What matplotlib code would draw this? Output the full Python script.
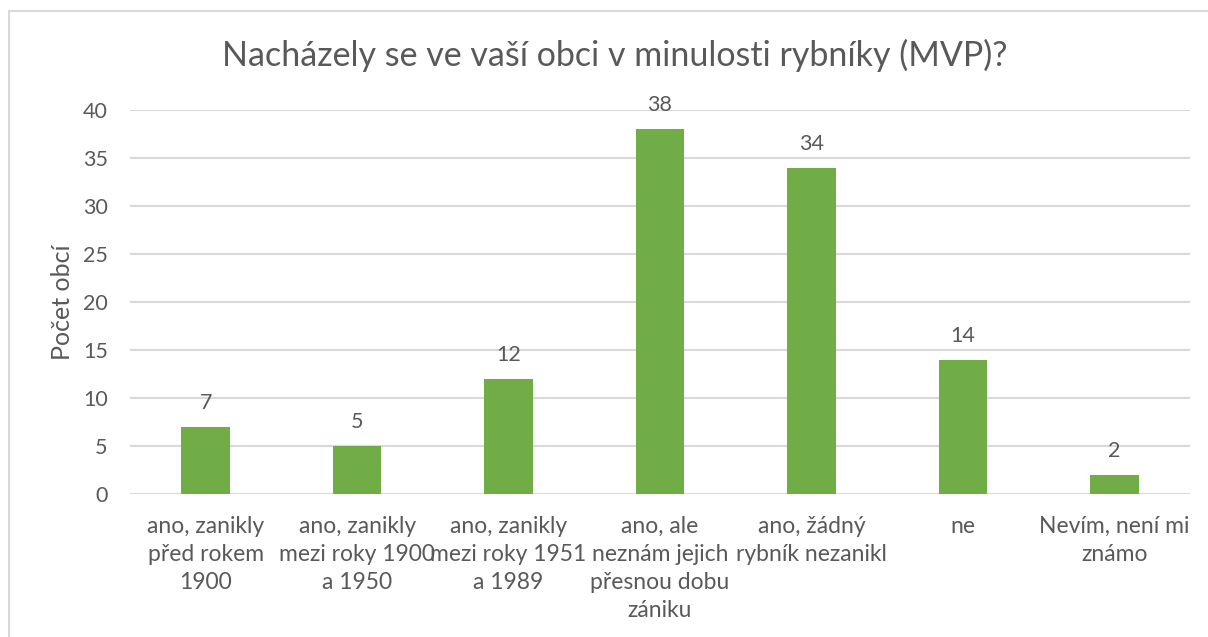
import matplotlib
matplotlib.use("Agg")
import matplotlib.pyplot as plt
from matplotlib.lines import Line2D

categories = [
    "ano, zanikly\npřed rokem\n1900",
    "ano, zanikly\nmezi roky 1900\na 1950",
    "ano, zanikly\nmezi roky 1951\na 1989",
    "ano, ale\nneznám jejich\npřesnou dobu\nzániku",
    "ano, žádný\nrybník nezanikl",
    "ne",
    "Nevím, není mi\nznámo",
]
counts = [7, 5, 12, 38, 34, 14, 2]
y_ticks = [0, 5, 10, 15, 20, 25, 30, 35, 40]

TEXT = "#595959"
BAR = "#70AD47"
GRID = "#D9D9D9"

plt.rcParams["font.family"] = ["Lato", "DejaVu Sans"]

W, H = 1208, 637
fig = plt.figure(figsize=(W / 100, H / 100), dpi=100)
fig.patch.set_facecolor("white")

# chart border (cut off at right/bottom like the screenshot)
fig.add_artist(Line2D([9 / W, 9 / W], [0, 1 - 11 / H], color=GRID, lw=1.5))
fig.add_artist(Line2D([9 / W, 1], [1 - 11 / H, 1 - 11 / H], color=GRID, lw=1.5))

ax = fig.add_axes([130 / W, 1 - 494 / H, 1060 / W, 384 / H])
x = range(len(categories))
bars = ax.bar(x, counts, width=0.32, color=BAR, zorder=3)
ax.set_xlim(-0.5, len(categories) - 0.5)
ax.set_ylim(0, 40)
ax.set_yticks(y_ticks)
ax.yaxis.grid(True, color=GRID, lw=1.5, zorder=0)
for s in ax.spines.values():
    s.set_visible(False)
ax.tick_params(axis="y", length=0, pad=16, labelsize=15.5, labelcolor=TEXT)
ax.tick_params(axis="x", length=0, pad=16, labelsize=16.5, labelcolor=TEXT)
ax.set_xticks(list(x))
ax.set_xticklabels(categories, linespacing=1.4)

for b, v in zip(bars, counts):
    ax.annotate(f"{v}", (b.get_x() + b.get_width() / 2, v), xytext=(0, 10),
                textcoords="offset points", ha="center", va="bottom",
                fontsize=15.5, color=TEXT)

ax.set_ylabel("Počet obcí", fontsize=18, color=TEXT, va="center")
ax.yaxis.set_label_coords(-68 / 1060, 0.5)
fig.text(615 / W, 1 - 55 / H, "Nacházely se ve vaší obci v minulosti rybníky (MVP)?",
         ha="center", va="center", fontsize=24.5, color=TEXT)

fig.savefig("out.png", dpi=100)
